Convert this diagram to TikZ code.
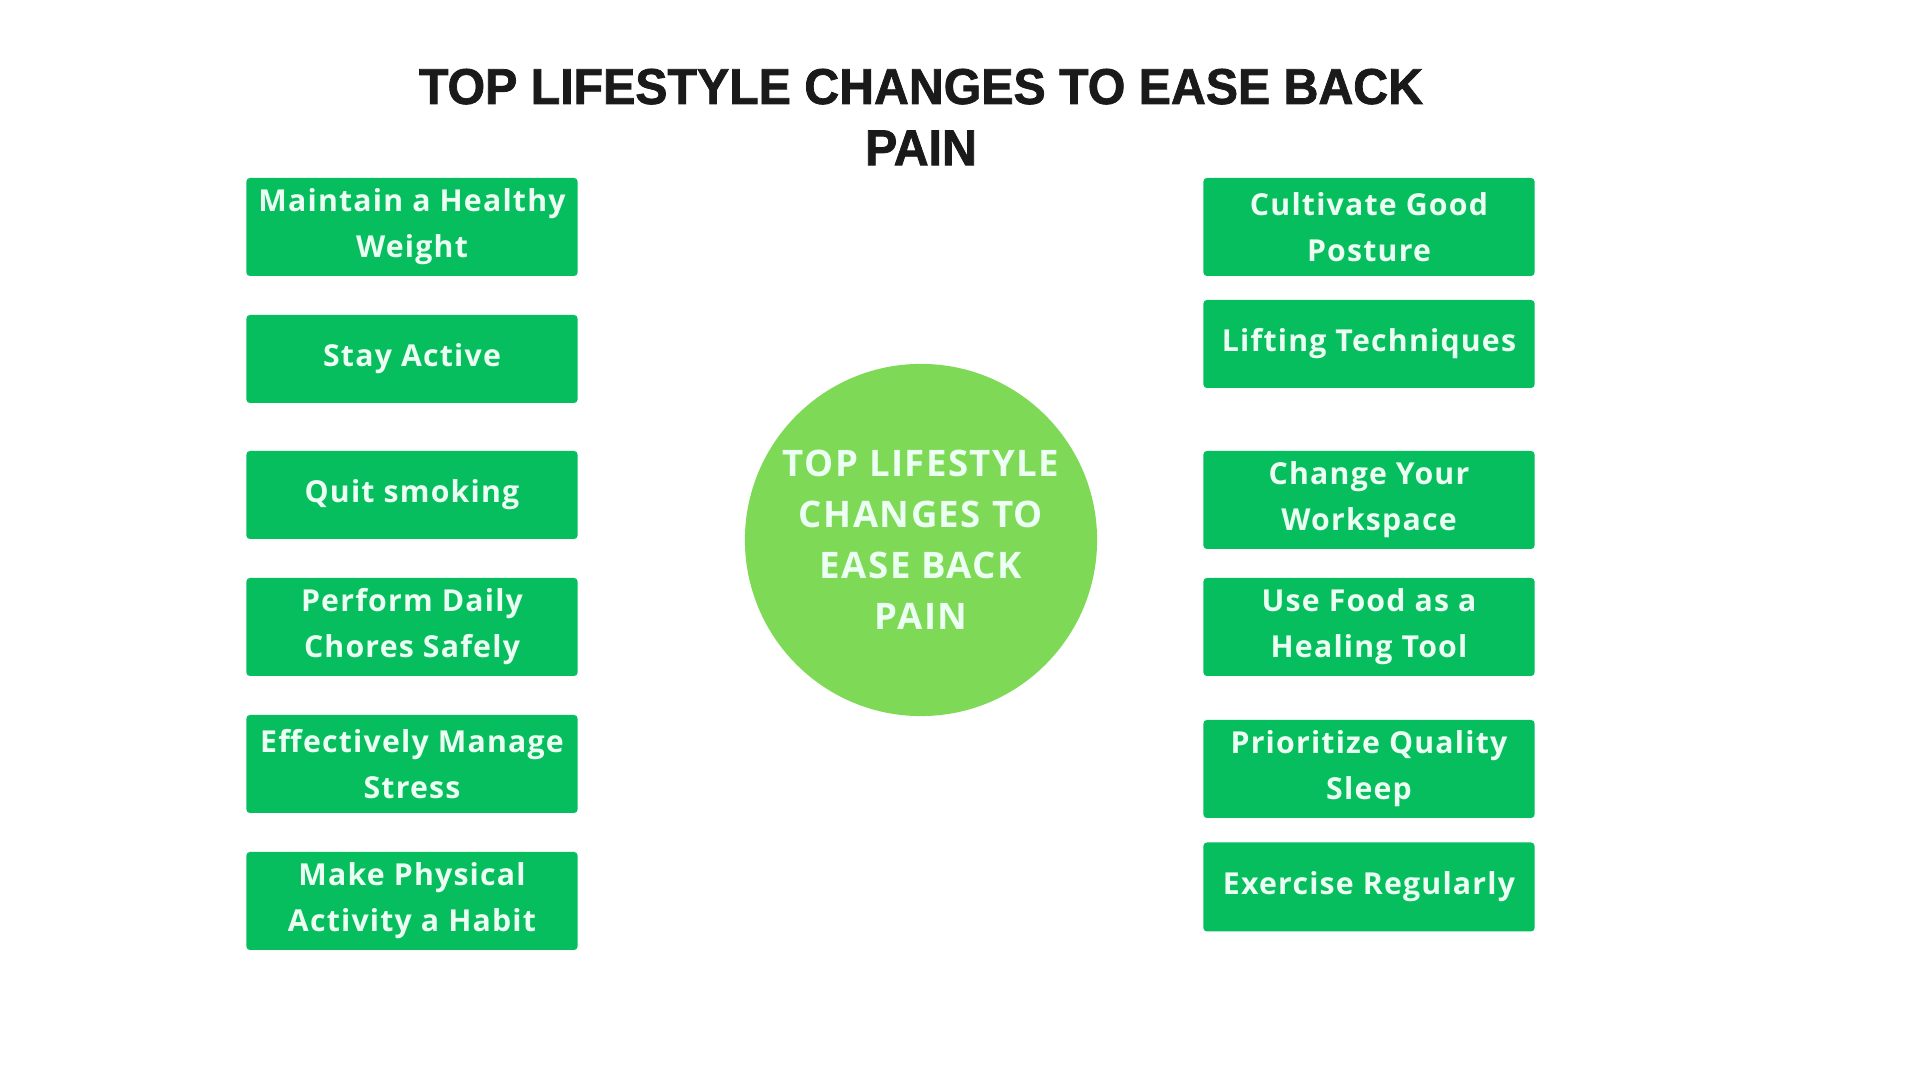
\documentclass[tikz,border=0pt]{standalone}
\usepackage{fontspec}
\setmainfont{Open Sans}
\newfontfamily\titlefont{Liberation Sans}[FakeStretch=0.96, FakeBold=1.5]
\newfontfamily\boxfont{Open Sans}[LetterSpace=4]
\usetikzlibrary{positioning}
\definecolor{boxgreen}{HTML}{06BE5E}
\definecolor{hubgreen}{HTML}{7ED957}
\definecolor{paletext}{HTML}{EBFFF2}
\definecolor{titleink}{HTML}{1A1A1A}

\begin{document}
\begin{tikzpicture}[x=0.01cm,y=-0.01cm]
   \fill[white] (0,0) rectangle (1920,1080);
   \useasboundingbox (0,0) rectangle (1920,1080);
   \tikzstyle{tip}=[rectangle, fill=boxgreen, rounded corners=1pt, minimum width=3.31cm, inner sep=0pt, align=center, text=paletext, font=\boxfont\bfseries\fontsize{8.6}{13.1}\selectfont]
   \node[align=center, text=titleink, font=\titlefont\bfseries\fontsize{14.3}{17.4}\selectfont] (title) at (921,117) {TOP LIFESTYLE CHANGES TO EASE BACK\\PAIN};
   \node[circle, fill=hubgreen, minimum size=3.52cm, inner sep=0pt, align=center, text=paletext, font=\boxfont\bfseries\fontsize{10.4}{14.5}\selectfont] (hub) at (921,540) {TOP LIFESTYLE\\CHANGES TO\\EASE BACK\\PAIN};
   % left column
   \foreach \i/\y/\h/\txt in {1/227/98/{Maintain a Healthy\\Weight},2/359/88/{Stay Active},3/495/88/{Quit smoking},4/627/98/{Perform Daily\\Chores Safely},5/764/98/{Effectively Manage\\Stress},6/901/98/{Make Physical\\Activity a Habit}} {
       \node[tip, minimum height=\h*0.01cm] (left\i) at (412,\y) {\txt};
   }
   % right column
   \foreach \i/\y/\h/\txt in {1/227/98/{Cultivate Good\\Posture},2/344/88/{Lifting Techniques},3/500/98/{Change Your\\Workspace},4/627/98/{Use Food as a\\Healing Tool},5/769/98/{Prioritize Quality\\Sleep},6/887/89/{Exercise Regularly}} {
       \node[tip, minimum height=\h*0.01cm] (right\i) at (1369,\y) {\txt};
   }
\end{tikzpicture}
\end{document}
